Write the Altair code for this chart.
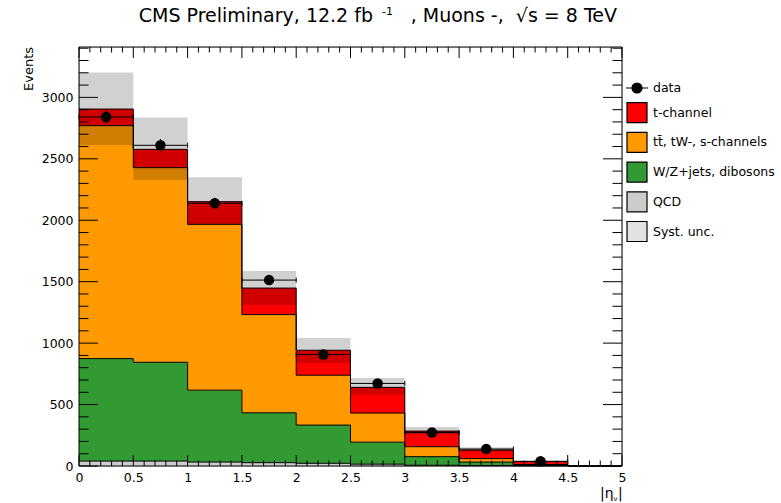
import altair as alt
import pandas as pd

# ---------------- data ----------------
edges = [0.0, 0.5, 1.0, 1.5, 2.0, 2.5, 3.0, 3.5, 4.0, 4.5, 5.0]
qcd = [40, 40, 32, 27, 22, 15, 6, 3, 1, 0]
wzjets = [834, 804, 585, 406, 311, 179, 70, 29, 4, 0]
ttbar = [1896, 1584, 1350, 799, 406, 237, 81, 28, 7, 0]
tchannel = [135, 149, 184, 216, 203, 209, 127, 70, 24, 0]
data_counts = [2840, 2610, 2138, 1513, 907, 672, 272, 138, 38]
data_errors = [53, 51, 46, 39, 30, 26, 16, 12, 6]
syst_low = [2612, 2328, 1960, 1310, 839, 582, 257, 115, 30]
syst_high = [3203, 2837, 2350, 1588, 1042, 717, 317, 152, 42]

stack_names = ["QCD", "W/Z+jets, dibosons", "tt\u0304, tW-, s-channels", "t-channel"]
legend_names = ["data", "t-channel", "tt\u0304, tW-, s-channels", "W/Z+jets, dibosons", "QCD", "Syst. unc."]
legend_colors = ["#000000", "#ff0000", "#ff9900", "#339933", "#cccccc", "#e2e2e2"]
data_symbol = "M-1.1,0L1.1,0M0.5,0A0.5,0.5,0,1,1,-0.5,0A0.5,0.5,0,1,1,0.5,0Z"
legend_shapes = [data_symbol, "square", "square", "square", "square", "square"]

x_major = [0, 0.5, 1, 1.5, 2, 2.5, 3, 3.5, 4, 4.5, 5]
x_minor = [round(i * 0.1, 1) for i in range(51) if i % 5]
y_major = [0, 500, 1000, 1500, 2000, 2500, 3000]
y_minor = [v for v in range(100, 3401, 100) if v % 500]

title_left = "CMS Preliminary, 12.2 fb"
title_sup = "-1"
title_right = ", Muons -,\u00a0\u00a0\u221as = 8 TeV"

FONT = "DejaVu Sans"
W, H = 543, 419

# ---------------- tables ----------------
rows = []
base = [0] * 10
for name, vals in zip(stack_names, [qcd, wzjets, ttbar, tchannel]):
    top = [b + v for b, v in zip(base, vals)]
    for j in range(10):
        rows.append({"comp": name, "x": edges[j], "lo": base[j], "hi": top[j]})
    rows.append({"comp": name, "x": edges[10], "lo": base[9], "hi": top[9]})
    base = top
stack_df = pd.DataFrame(rows)

band_rows = [{"x": edges[j], "lo": syst_low[j], "hi": syst_high[j]} for j in range(9)]
band_rows.append({"x": edges[9], "lo": syst_low[8], "hi": syst_high[8]})
band_df = pd.DataFrame(band_rows)

data_df = pd.DataFrame({
    "lo": edges[:9],
    "hi": edges[1:10],
    "xc": [(a + b) / 2 for a, b in zip(edges[:9], edges[1:10])],
    "n": data_counts,
    "elo": [n - e for n, e in zip(data_counts, data_errors)],
    "ehi": [n + e for n, e in zip(data_counts, data_errors)],
})
caps_df = pd.DataFrame({
    "x": edges[:9] + edges[1:10],
    "n": data_counts + data_counts,
})

# ---------------- scales / axes ----------------
xs = alt.Scale(domain=[0, 5], nice=False, zero=False)
ys = alt.Scale(domain=[0, 3410], nice=False, zero=False)
xaxis = alt.Axis(values=x_major, format="~g", ticks=False, tickSize=0, domain=False, grid=False,
                 labelFont=FONT, labelFontSize=12.5, labelColor="black", labelPadding=5,
                 labelFlush=False, title=None)
yaxis = alt.Axis(values=y_major, format="d", ticks=False, tickSize=0, domain=False, grid=False,
                 labelFont=FONT, labelFontSize=12.5, labelColor="black", labelPadding=6,
                 title=None)


def X(f):
    return alt.X(f, type="quantitative", scale=xs, axis=xaxis)


def Y(f):
    return alt.Y(f, type="quantitative", scale=ys, axis=yaxis)


fill_scale = alt.Scale(domain=legend_names, range=legend_colors)
shape_scale = alt.Scale(domain=legend_names, range=legend_shapes)
leg = alt.Legend(title=None, orient="none", legendX=547, legendY=30, direction="vertical",
                 symbolSize=400, symbolStrokeColor="black", symbolStrokeWidth=1.2,
                 labelFont=FONT, labelFontSize=12.5, labelColor="black", labelOffset=5,
                 rowPadding=3.7, padding=0, symbolOffset=0, labelLimit=300)

# ---------------- layers ----------------
areas = alt.Chart(stack_df).mark_area(interpolate="step-after", opacity=1).encode(
    x=X("x"), y=Y("lo"), y2=alt.Y2("hi"),
    fill=alt.Fill("comp:N", scale=fill_scale, legend=leg))

outlines = alt.Chart(stack_df).mark_line(interpolate="step-after", color="black", strokeWidth=1).encode(
    x=X("x"), y=Y("hi"), detail="comp:N")

band = alt.Chart(band_df).mark_area(interpolate="step-after", color="black", opacity=0.18).encode(
    x=X("x"), y=Y("lo"), y2=alt.Y2("hi"))

err_h = alt.Chart(data_df).mark_rule(color="black", strokeWidth=1).encode(
    x=X("lo"), x2=alt.X2("hi"), y=Y("n"))
err_v = alt.Chart(data_df).mark_rule(color="black", strokeWidth=1).encode(
    x=X("xc"), y=Y("elo"), y2=alt.Y2("ehi"))
caps = alt.Chart(caps_df).mark_tick(orient="vertical", size=5, thickness=1, color="black", opacity=1).encode(
    x=X("x"), y=Y("n"))
points = alt.Chart(data_df).mark_circle(size=110, color="black", opacity=1).encode(
    x=X("xc"), y=Y("n"))


def yticks(vals, length):
    d = pd.DataFrame({"v": vals})
    left = alt.Chart(d).mark_rule(color="black", strokeWidth=1).encode(
        y=Y("v"), x=alt.value(0), x2=alt.value(length))
    right = alt.Chart(d).mark_rule(color="black", strokeWidth=1).encode(
        y=Y("v"), x=alt.value(W - length), x2=alt.value(W))
    return [left, right]


def xticks(vals, length):
    d = pd.DataFrame({"v": vals})
    bottom = alt.Chart(d).mark_rule(color="black", strokeWidth=1).encode(
        x=X("v"), y=alt.value(H - length), y2=alt.value(H))
    top = alt.Chart(d).mark_rule(color="black", strokeWidth=1).encode(
        x=X("v"), y=alt.value(0), y2=alt.value(length))
    return [bottom, top]


one = pd.DataFrame({"t": [""]})
frame = alt.Chart(one).mark_rect(fillOpacity=0, stroke="black", strokeWidth=1).encode(
    x=alt.value(0), x2=alt.value(W), y=alt.value(0), y2=alt.value(H))


def text(s, x, y, size, align="left", angle=0):
    return alt.Chart(pd.DataFrame({"t": [s]})).mark_text(
        align=align, baseline="alphabetic", font=FONT, fontSize=size, color="black", angle=angle
    ).encode(text="t:N", x=alt.value(x), y=alt.value(y))


texts = [
    text(title_left, 294, -25.5, 19, align="right"),
    text(title_sup, 303, -32, 11),
    text(title_right, 538, -25.5, 19, align="right"),
    text("Events", -46, 0, 13, align="right", angle=270),
    text("|\u03b7", 521, 450.5, 14),
    text("\u03bd", 534.5, 454, 7),
    text("|", 539, 450.5, 14),
]

legend_layer = alt.Chart(alt.Data(values=[])).mark_point(filled=True, opacity=1).encode(
    fill=alt.Fill("comp:N", scale=fill_scale, legend=leg),
    shape=alt.Shape("comp:N", scale=shape_scale, legend=leg))

layers = [areas, outlines, band, err_h, err_v, caps, points]
layers += yticks(y_major, 19) + yticks(y_minor, 9.5) + xticks(x_major, 11) + xticks(x_minor, 5.5)
layers += [frame] + texts + [legend_layer]

chart = alt.layer(*layers).properties(
    width=W, height=H,
    autosize=alt.AutoSizeParams(type="none"),
    padding={"left": 79, "top": 47, "right": 159, "bottom": 37},
).configure_view(stroke="transparent").configure(font=FONT, background="white")

chart.save("out.html", embed_options={"renderer": "svg", "actions": False})
